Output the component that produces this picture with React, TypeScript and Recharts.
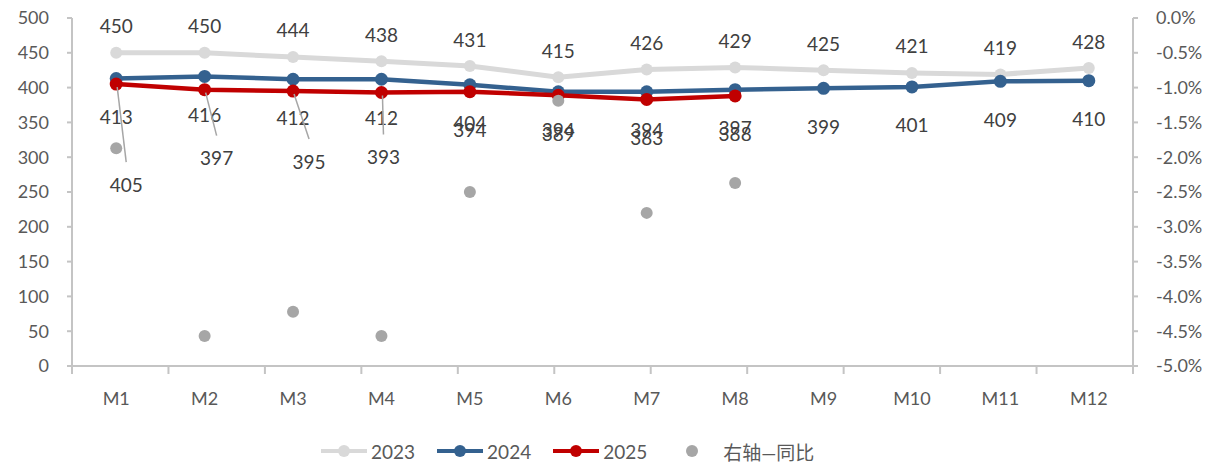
import React from "react";
import { ComposedChart, Line, XAxis, YAxis, LabelList } from "recharts";

const MONTHS = ["M1", "M2", "M3", "M4", "M5", "M6", "M7", "M8", "M9", "M10", "M11", "M12"];
const Y2023 = [450, 450, 444, 438, 431, 415, 426, 429, 425, 421, 419, 428];
const Y2024 = [413, 416, 412, 412, 404, 394, 394, 397, 399, 401, 409, 410];
const Y2025 = [405, 397, 395, 393, 394, 389, 383, 388];
// 右轴—同比, in %
const YOY = [-1.87, -4.57, -4.22, -4.57, -2.5, -1.19, -2.8, -2.37];

const LEFT_TICKS = [0, 50, 100, 150, 200, 250, 300, 350, 400, 450, 500];
const RIGHT_TICKS = [0, -0.5, -1, -1.5, -2, -2.5, -3, -3.5, -4, -4.5, -5];
const EDGE_TICKS = [0, 1, 2, 3, 4, 5, 6, 7, 8, 9, 10, 11, 12];

const data = MONTHS.map((m, i) => ({
  month: m,
  y2023: Y2023[i],
  y2024: Y2024[i],
  y2025: Y2025[i] ?? null,
  yoy: YOY[i] ?? null,
}));

const C2023 = "#D9D9D9";
const C2024 = "#34618F";
const C2025 = "#C00000";
const CYOY = "#A6A6A6";
const AXIS = "#C4C4C4";
const LABEL = "#404040";
const TICK = "#595959";

// axis ids: "a" draws the baseline with ticks on month boundaries, "b" carries the month names
const EDGE_ID = "a";
const CAT_ID = "b";

// label nudges for the 2025 series (first months pushed down with leader lines)
const NUDGE_2025 = [
  { dx: 10, dy: 100 },
  { dx: 12, dy: 68 },
  { dx: 16, dy: 70 },
  { dx: 2, dy: 64 },
];

const labelAbove = (props: any) => {
  const { x, y, value } = props;
  if (value == null) return null;
  return (
    <text x={x} y={y - 27} textAnchor="middle" dominantBaseline="central" fill={LABEL} fontSize={19}>
      {value}
    </text>
  );
};

const labelBelow = (props: any) => {
  const { x, y, value } = props;
  if (value == null) return null;
  return (
    <text x={x} y={y + 38} textAnchor="middle" dominantBaseline="central" fill={LABEL} fontSize={19}>
      {value}
    </text>
  );
};

const label2025 = (props: any) => {
  const { x, y, value, index } = props;
  if (value == null) return null;
  const n = NUDGE_2025[index];
  if (!n) return labelBelow(props);
  const lx = x + n.dx;
  const ly = y + n.dy;
  return (
    <g>
      <line x1={x + 1} y1={y + 3} x2={lx} y2={ly - 22} stroke={CYOY} strokeWidth={1.5} />
      <text x={lx} y={ly} textAnchor="middle" dominantBaseline="central" fill={LABEL} fontSize={19}>
        {value}
      </text>
    </g>
  );
};

function LegendItem({ color, label, line }: { color: string; label: string; line: boolean }) {
  return (
    <div style={{ display: "flex", alignItems: "center", marginRight: 22 }}>
      <svg width={46} height={14}>
        {line && <line x1={0} y1={7} x2={46} y2={7} stroke={color} strokeWidth={4} strokeLinecap="round" />}
        <circle cx={23} cy={7} r={6} fill={color} />
      </svg>
      <span style={{ marginLeft: line ? 4 : 8, color: TICK, fontSize: 19 }}>{label}</span>
    </div>
  );
}

export default function App() {
  return (
    <div
      style={{
        position: "absolute",
        left: 0,
        top: 0,
        width: 1219,
        height: 466,
        background: "#fff",
        fontFamily: "Lato, 'Noto Sans CJK SC', sans-serif",
      }}
    >
      <ComposedChart width={1219} height={466} data={data} margin={{ top: 18, right: 0, bottom: 62, left: 0 }}>
        <XAxis
          xAxisId={EDGE_ID}
          type="number"
          domain={[0, 12]}
          ticks={EDGE_TICKS}
          tickFormatter={() => ""}
          height={8}
          tickSize={8}
          stroke={AXIS}
          strokeWidth={2}
          allowDataOverflow
        />
        <XAxis
          xAxisId={CAT_ID}
          dataKey="month"
          scale="band"
          axisLine={false}
          tickLine={false}
          tickSize={0}
          tickMargin={18}
          height={30}
          interval={0}
          tick={{ fill: TICK, fontSize: 18 }}
        />
        <YAxis
          yAxisId="left"
          width={72}
          domain={[0, 500]}
          ticks={LEFT_TICKS}
          tickSize={5}
          tickMargin={18}
          stroke={AXIS}
          strokeWidth={2}
          tick={{ fill: TICK, fontSize: 18 }}
        />
        <YAxis
          yAxisId="right"
          orientation="right"
          width={86}
          domain={[-5, 0]}
          ticks={RIGHT_TICKS}
          tickSize={5}
          tickMargin={18}
          stroke={AXIS}
          strokeWidth={2}
          tick={{ fill: TICK, fontSize: 18, textAnchor: "start" }}
          tickFormatter={(v: number) => `${v.toFixed(1)}%`}
        />
        <Line
          xAxisId={CAT_ID}
          yAxisId="left"
          dataKey="y2023"
          stroke={C2023}
          strokeWidth={5}
          dot={{ r: 6, fill: C2023, stroke: C2023, strokeWidth: 0 }}
          activeDot={false}
          isAnimationActive={false}
        >
          <LabelList dataKey="y2023" content={labelAbove} />
        </Line>
        <Line
          xAxisId={CAT_ID}
          yAxisId="left"
          dataKey="y2024"
          stroke={C2024}
          strokeWidth={4.5}
          dot={{ r: 6.5, fill: C2024, stroke: C2024, strokeWidth: 0 }}
          activeDot={false}
          isAnimationActive={false}
        >
          <LabelList dataKey="y2024" content={labelBelow} />
        </Line>
        <Line
          xAxisId={CAT_ID}
          yAxisId="left"
          dataKey="y2025"
          stroke={C2025}
          strokeWidth={4.5}
          dot={{ r: 6.5, fill: C2025, stroke: C2025, strokeWidth: 0 }}
          activeDot={false}
          isAnimationActive={false}
        >
          <LabelList dataKey="y2025" content={label2025} />
        </Line>
        <Line
          xAxisId={CAT_ID}
          yAxisId="right"
          dataKey="yoy"
          stroke="none"
          dot={{ r: 6, fill: CYOY, stroke: CYOY, strokeWidth: 0 }}
          activeDot={false}
          isAnimationActive={false}
        />
      </ComposedChart>
      <div
        style={{
          position: "absolute",
          left: 321,
          top: 437,
          height: 28,
          display: "flex",
          alignItems: "center",
        }}
      >
        <LegendItem color={C2023} label="2023" line />
        <LegendItem color={C2024} label="2024" line />
        <LegendItem color={C2025} label="2025" line />
        <LegendItem color={CYOY} label="右轴—同比" line={false} />
      </div>
    </div>
  );
}
